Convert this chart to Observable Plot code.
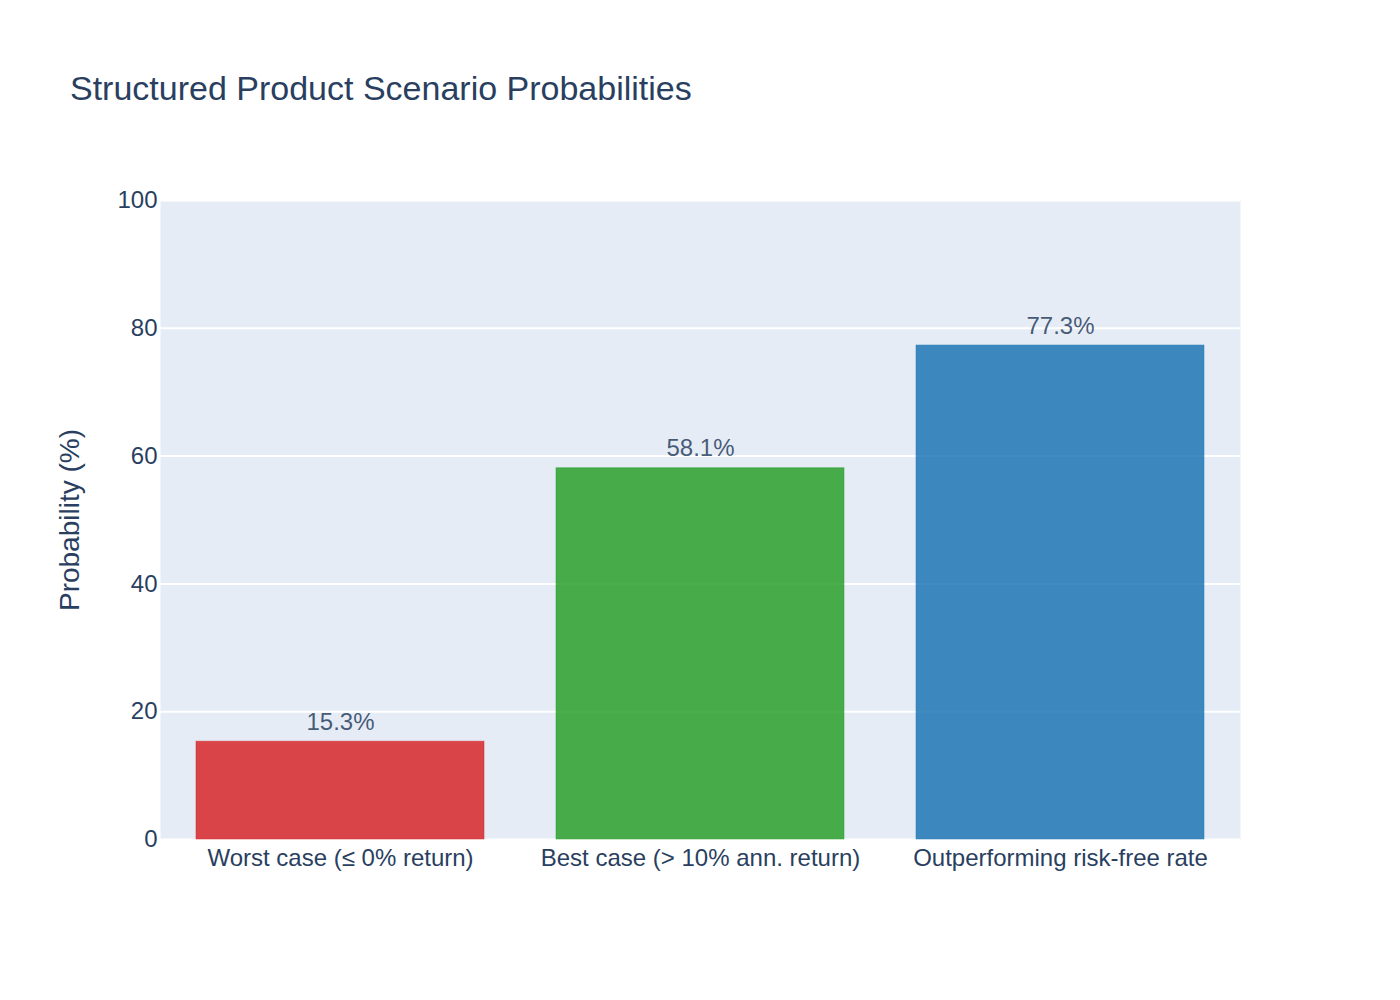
<!DOCTYPE html>
<html>
<head>
<meta charset="utf-8">
<script src="https://cdn.jsdelivr.net/npm/d3@7"></script>
<script src="https://cdn.jsdelivr.net/npm/@observablehq/plot@0.6"></script>
<style>
  html, body { margin: 0; padding: 0; background: #fff; }
  #wrap { position: relative; width: 1400px; height: 1000px; font-family: "Liberation Sans", Arial, sans-serif; }
  #title { position: absolute; left: 70px; top: 71px; font-size: 34px; color: #2a3f5f; white-space: nowrap; line-height: 1; }
</style>
</head>
<body>
<div id="wrap">
  <div id="title">Structured Product Scenario Probabilities</div>
</div>
<script>
const categories = ["Worst case (≤ 0% return)", "Best case (> 10% ann. return)", "Outperforming risk-free rate"];
const probabilities = [15.3, 58.1, 77.3];
const barColors = ["#d62728", "#2ca02c", "#1f77b4"];
const yTicks = [0, 20, 40, 60, 80, 100];

const data = categories.map((c, i) => ({category: c, value: probabilities[i], color: barColors[i]}));

const chart = Plot.plot({
  width: 1400,
  height: 1000,
  marginLeft: 160,
  marginRight: 160,
  marginTop: 200,
  marginBottom: 161,
  style: {fontFamily: '"Liberation Sans", Arial, sans-serif', fontSize: "24px", color: "#2a3f5f", background: "transparent"},
  x: {domain: categories, paddingInner: 0.2, paddingOuter: 0.1, label: null},
  y: {domain: [0, 100], label: null},
  marks: [
    Plot.frame({fill: "#e5ecf6", stroke: null}),
    Plot.gridY(yTicks, {stroke: "#ffffff", strokeOpacity: 1, strokeWidth: 2}),
    Plot.barY(data, {x: "category", y: "value", fill: "color", fillOpacity: 0.85, stroke: "color", strokeOpacity: 0.5, strokeWidth: 1}),
    Plot.text(data, {x: "category", y: "value", text: d => d.value.toFixed(1) + "%", lineAnchor: "bottom", dy: -12, fill: "#2a3f5f", fillOpacity: 0.85, fontSize: 24}),
    Plot.axisY({ticks: yTicks, tickSize: 0, tickPadding: 3, fontSize: 24, label: null}),
    Plot.axisX({tickSize: 0, tickPadding: 9, fontSize: 24, label: null}),
    Plot.text(["Probability (%)"], {frameAnchor: "left", textAnchor: "middle", dx: -90, rotate: -90, fontSize: 28, fill: "#2a3f5f"})
  ]
});
document.getElementById("wrap").appendChild(chart);
chart.style.position = "absolute";
chart.style.left = "0px";
chart.style.top = "0px";
</script>
</body>
</html>
